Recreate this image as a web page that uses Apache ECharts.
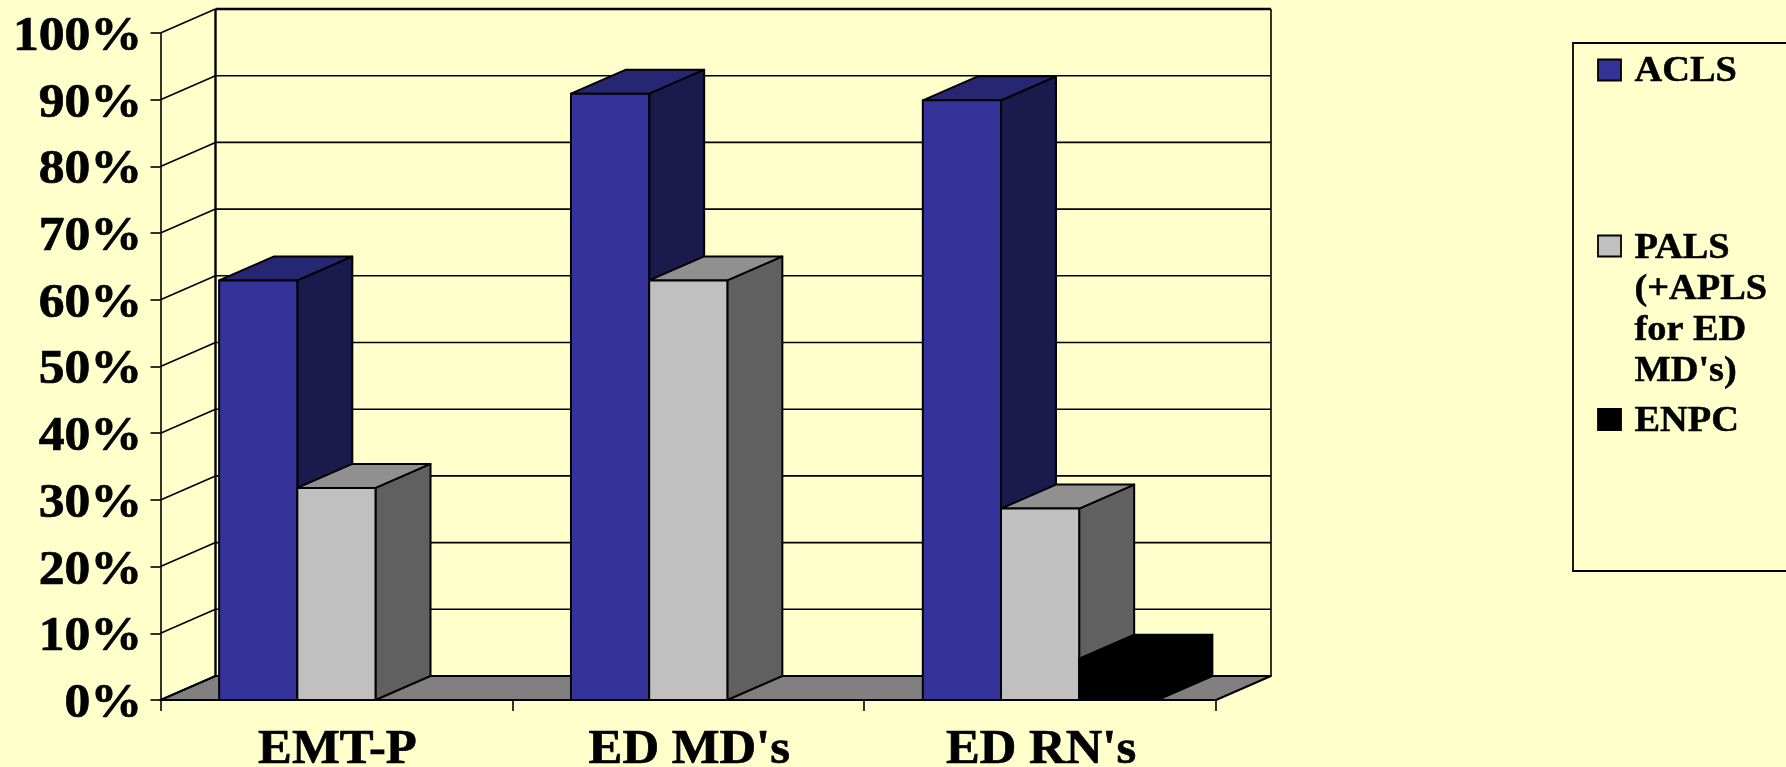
<!DOCTYPE html>
<html>
<head>
<meta charset="utf-8">
<style>html,body{margin:0;padding:0;background:#FFFFCC;overflow:hidden}#c{width:1786px;height:767px}</style>
<script src="https://cdn.jsdelivr.net/npm/echarts@6/dist/echarts.min.js"></script>
</head>
<body>
<div id="c"></div>
<script>
const categories = ['EMT-P', "ED MD's", "ED RN's"];
const aclsValues = [62.9, 90.9, 89.9];
const palsValues = [31.8, 62.9, 28.7];
const enpcValues = [0, 0, 6.2];
const yTicks = [0, 10, 20, 30, 40, 50, 60, 70, 80, 90, 100];
const seriesNames = ['ACLS', "PALS\n(+APLS\nfor ED\nMD's)", 'ENPC'];

const BG = '#FFFFCC', DX = 55, DY = -24;
const FONT = 'Liberation Serif';
const palette = [
  {front:'#333399', top:'#262673', side:'#1A1A4D'},
  {front:'#C0C0C0', top:'#909090', side:'#606060'},
  {front:'#000000', top:'#000000', side:'#000000'}
];
const label = (x, y, text, align, size, sx) => ({
  type:'text', x, y, scaleX:sx, originX:0, originY:0,
  style:{x:0, y:0, text, align, verticalAlign:'middle', fontFamily:FONT, fontWeight:'bold', fontSize:size, fill:'#000', stroke:'#000', lineWidth:0.7}
});
const ln = (x1,y1,x2,y2,w) => ({type:'line', shape:{x1,y1,x2,y2}, style:{stroke:'#000', lineWidth:w||1.6, fill:null}});
const poly = (pts, fill) => ({type:'polygon', shape:{points:pts}, style:{fill, stroke:'#000', lineWidth:2, lineJoin:'round'}});

function wallItem(params, api) {
  const v = api.value(0);
  const p = api.coord([0, v]);
  const xl = p[0] - api.size([1,0])[0] / 2;
  const xr = xl + api.size([1,0])[0] * categories.length;
  const y = p[1];
  const children = [];
  if (params.dataIndex === 0) {
    const yTop = api.coord([0, 100])[1];
    children.push(poly([[xl,y],[xl+DX,y+DY],[xr+DX,y+DY],[xr,y]], '#808080'));
    children.push(ln(xl+DX, y+DY, xl+DX, yTop+DY, 2.4));
    children.push(ln(xr+DX, y+DY, xr+DX, yTop+DY, 1.6));
  }
  children.push(ln(xl, y, xl+DX, y+DY));
  if (v > 0) children.push(ln(xl+DX, y+DY, xr+DX, y+DY, v === 100 ? 2.4 : 1.6));
  return {type:'group', children};
}

function barRenderer(idx) {
  return function (params, api) {
    const cat = api.value(0), val = api.value(1);
    if (!val) return {type:'group', children:[]};
    const band = api.size([1,0])[0];
    const w = band / 4.5;
    const base = api.coord([cat, 0]);
    const top = api.coord([cat, val]);
    const x0 = base[0] - band/2 + w*0.75 + w*idx;
    const x1 = x0 + w, yb = base[1], yt = top[1];
    const c = palette[idx];
    return {type:'group', children:[
      poly([[x1,yb],[x1+DX,yb+DY],[x1+DX,yt+DY],[x1,yt]], c.side),
      poly([[x0,yt],[x0+DX,yt+DY],[x1+DX,yt+DY],[x1,yt]], c.top),
      poly([[x0,yb],[x0,yt],[x1,yt],[x1,yb]], c.front)
    ]};
  };
}
const barData = vals => vals.map((v,i) => [i, v]);
const barSeries = [aclsValues, palsValues, enpcValues].map((vals, idx) => ({
  type:'custom', name:seriesNames[idx], coordinateSystem:'cartesian2d', clip:false, z:3, silent:true,
  data:barData(vals), encode:{x:0,y:1}, renderItem:barRenderer(idx)
}));

const legendText = (y, text) => ({type:'text', x:1634.5, y, scaleX:1.065, z:6,
  style:{text, fontFamily:FONT, fontWeight:'bold', fontSize:36, fill:'#000', stroke:'#000', lineWidth:0.5, align:'left', verticalAlign:'middle'}});
const swatch = (y, fill) => ({type:'rect', shape:{x:1598,y,width:23,height:21}, style:{fill, stroke:'#000', lineWidth:1.8}, z:6});
const palsLines = seriesNames[1].split('\n');

const option = {
  animation:false,
  backgroundColor:BG,
  grid:{left:160.5, top:33, width:1055.5, height:667, containLabel:false},
  xAxis:{type:'category', data:categories, z:10,
    axisLine:{lineStyle:{color:'#000', width:1.8}},
    axisTick:{show:true, length:11, lineStyle:{color:'#000', width:1.6}},
    axisLabel:{show:false}, splitLine:{show:false}},
  yAxis:{type:'value', min:0, max:100, interval:10, z:10,
    axisLine:{show:true, lineStyle:{color:'#000', width:1.6}},
    axisTick:{show:true, length:10, lineStyle:{color:'#000', width:1.6}},
    axisLabel:{show:false}, splitLine:{show:false}},
  series:[
    {type:'custom', name:'walls', clip:false, z:1, silent:true,
     data:yTicks.map(v => [v]), encode:{y:0}, renderItem:wallItem},
    ...barSeries,
    {type:'custom', name:'yLabels', clip:false, z:11, silent:true,
     data:yTicks.map(v => [v]), encode:{y:0},
     renderItem:(p, api) => { const c = api.coord([0, api.value(0)]);
       return label(142, c[1] + 4.5, api.value(0) + '%', 'right', 48, 1.075); }},
    {type:'custom', name:'xLabels', clip:false, z:11, silent:true,
     data:categories.map((c,i) => [i]), encode:{x:0},
     renderItem:(p, api) => { const i = api.value(0); const c = api.coord([i, 0]);
       return label(c[0] + 1, 751, categories[i], 'center', 48, 1.056); }}
  ],
  graphic:{elements:[
    {type:'rect', shape:{x:1573,y:43,width:300,height:528}, style:{fill:BG, stroke:'#000', lineWidth:1.8}, z:5},
    swatch(59.5, palette[0].front),
    swatch(235.5, palette[1].front),
    swatch(409, palette[2].front),
    legendText(72, seriesNames[0]),
    legendText(249, palsLines[0]),
    legendText(290, palsLines[1]),
    legendText(331, palsLines[2]),
    legendText(372, palsLines[3]),
    legendText(422, seriesNames[2])
  ]}
};
const chart = echarts.init(document.getElementById('c'), null, {width:1786, height:767});
chart.setOption(option);
</script>
</body>
</html>
